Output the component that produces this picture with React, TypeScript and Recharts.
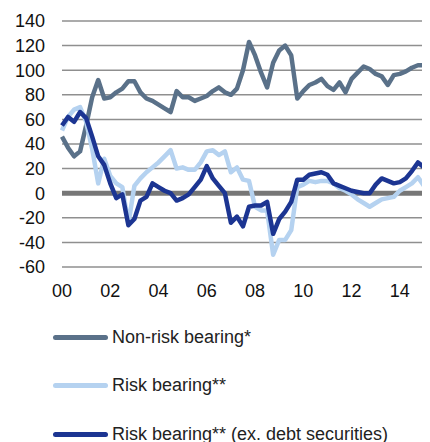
import { LineChart, Line, XAxis, YAxis, CartesianGrid, ReferenceLine } from "recharts";

// quarterly, 2000Q1 .. 2015Q2
const START_YEAR = 2000;

const nonRisk = [
  46, 37, 30, 34, 55, 78, 92, 77, 78, 82, 85, 91, 91, 82, 77, 75, 72, 69, 66, 83,
  78, 78, 75, 77, 79, 83, 86, 82, 80, 85, 100, 123, 112, 98, 86, 106, 116, 120, 112, 77,
  83, 88, 90, 93, 87, 84, 90, 82, 93, 98, 103, 101, 97, 95, 88, 96, 97, 99, 102, 104,
  104, 103,
];

const riskBearing = [
  51, 62, 68, 70, 58, 36, 8, 28, 14, 8, 5, -25, 6, 12, 17, 21, 25, 30, 35, 20,
  21, 19, 19, 25, 34, 35, 31, 34, 17, 21, 11, 10, -11, -14, -14, -50, -38, -38, -30, 5,
  7, 10, 9, 10, 10, 8, 4, 2, -1, -5, -8, -11, -8, -5, -4, -3, 2, 5, 8, 13,
  6, 5,
];

const riskExDebt = [
  55, 62, 58, 66, 61, 46, 30, 23, 8, -4, -1, -26, -21, -6, -3, 8, 5, 2, 0, -6,
  -4, -1, 5, 11, 22, 12, 6, 0, -24, -19, -27, -11, -10, -10, -7, -33, -21, -15, -7, 11,
  11, 15, 16, 17, 15, 8, 6, 4, 2, 1, 0, 0, 7, 12, 10, 8, 9, 12, 18, 25,
  21, 21,
];

const yTicks = [140, 120, 100, 80, 60, 40, 20, 0, -20, -40, -60];
const xTicks = [2000, 2002, 2004, 2006, 2008, 2010, 2012, 2014];

const SERIES = [
  { key: "nonRisk", name: "Non-risk bearing*", color: "#5a7189" },
  { key: "risk", name: "Risk bearing**", color: "#b5d2f0" },
  { key: "riskEx", name: "Risk bearing** (ex. debt securities)", color: "#1c3592" },
];

const data = nonRisk.map((v, i) => ({
  t: START_YEAR + i * 0.25,
  nonRisk: v,
  risk: riskBearing[i],
  riskEx: riskExDebt[i],
}));

const FONT = '"Liberation Sans", Arial, sans-serif';
const tickStyle = { fontSize: 18, fill: "#111", fontFamily: FONT };

export default function App() {
  return (
    <div style={{ width: 422, fontFamily: FONT }}>
      <LineChart
        width={422}
        height={300}
        data={data}
        margin={{ top: 13, right: 0, bottom: 11, left: 0 }}
      >
        <CartesianGrid vertical={false} stroke="#8f8f8f" strokeWidth={1.5} />
        <XAxis
          dataKey="t"
          type="number"
          domain={[2000, 2015.25]}
          ticks={xTicks}
          tickFormatter={(v: number) => String(v % 100).padStart(2, "0")}
          axisLine={false}
          tickLine={false}
          tickMargin={11}
          height={30}
          tick={tickStyle}
        />
        <YAxis
          domain={[-60, 140]}
          ticks={yTicks}
          axisLine={false}
          tickLine={false}
          tickMargin={11}
          width={54}
          tick={tickStyle}
          interval={0}
        />
        <ReferenceLine y={0} stroke="#777" strokeWidth={5} />
        {SERIES.map((s) => (
          <Line
            key={s.key}
            dataKey={s.key}
            name={s.name}
            stroke={s.color}
            strokeWidth={4.5}
            dot={false}
            type="linear"
            strokeLinejoin="round"
            isAnimationActive={false}
          />
        ))}
      </LineChart>

      {/* legend, one series per row; the last row runs off the page bottom like the original */}
      <div style={{ marginTop: 5.5 }}>
        {SERIES.map((s) => (
          <div
            key={s.key}
            style={{ display: "flex", alignItems: "center", height: 48.3, marginLeft: 45 }}
          >
            <span
              style={{
                display: "inline-block",
                width: 55,
                height: 5,
                borderRadius: 3,
                background: s.color,
                marginRight: 4,
              }}
            />
            <span style={{ fontSize: 18, color: "#222", whiteSpace: "nowrap" }}>{s.name}</span>
          </div>
        ))}
      </div>
    </div>
  );
}
